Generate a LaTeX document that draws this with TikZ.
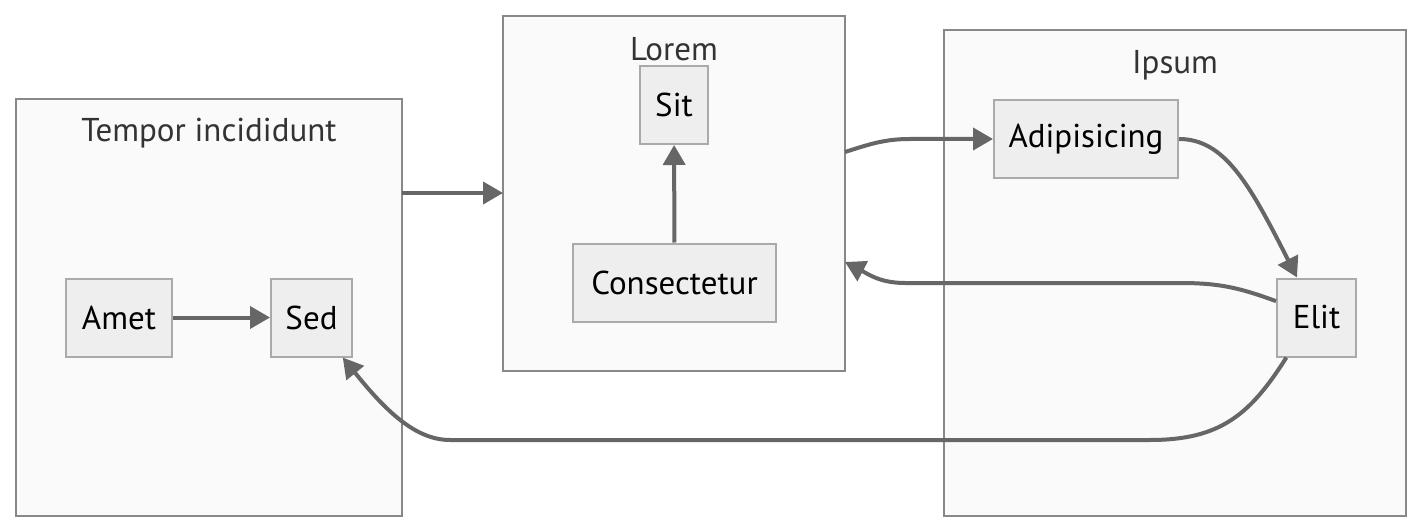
\documentclass[tikz,border=0pt]{standalone}
\usepackage{fontspec}
\setmainfont{PT Sans}
\usetikzlibrary{arrows.meta}

\definecolor{clusterfill}{HTML}{FAFAFA}
\definecolor{clusterline}{HTML}{888888}
\definecolor{boxfill}{HTML}{EEEEEE}
\definecolor{boxline}{HTML}{AAAAAA}
\definecolor{edgecol}{HTML}{666666}
\definecolor{titlecol}{HTML}{333333}

\tikzset{
    cluster/.style={draw=clusterline, fill=clusterfill, line width=2pt, inner sep=0pt},
    title/.style={text=titlecol, font=\fontsize{33}{38}\selectfont},
    box/.style={draw=boxline, fill=boxfill, line width=2pt, inner sep=0pt,
        minimum height=78pt, font=\fontsize{33}{38}\selectfont},
    edge/.style={draw=edgecol, line width=4pt, -{Triangle[length=20pt,width=22pt]}}
}

\begin{document}
\begin{tikzpicture}[x=1pt, y=-1pt]
        \useasboundingbox[fill=white] (0,0) rectangle (1422,532);

        % clusters
        \node[cluster, minimum width=386pt, minimum height=417pt] (tempor) at (209,307.5) {};
        \node[cluster, minimum width=342pt, minimum height=355pt] (lorem) at (674,193.5) {};
        \node[cluster, minimum width=462pt, minimum height=486pt] (ipsum) at (1175,273) {};

        \node[title] (tempor title) at (209,133) {Tempor incididunt};
        \node[title] (lorem title) at (674,49) {Lorem};
        \node[title] (ipsum title) at (1175,65) {Ipsum};

        % nodes
        \node[box, minimum width=106pt] (amet) at (119,317.5) {Amet};
        \node[box, minimum width=81pt] (sed) at (311.5,317.5) {Sed};
        \node[box, minimum width=68pt] (sit) at (674,105) {Sit};
        \node[box, minimum width=203pt] (cons) at (674.5,282.5) {Consectetur};
        \node[box, minimum width=184pt] (adip) at (1086,139) {Adipisicing};
        \node[box, minimum width=79pt] (elit) at (1316.5,317.5) {Elit};

        % cluster ends
        \coordinate (tempor out) at (402,193);
        \coordinate (lorem in) at (503,193);
        \coordinate (lorem out) at (845,152);
        \coordinate (lorem back) at (845,262);

        % edges
        \draw[edge] (amet) -- (sed);
        \draw[edge] (tempor out) -- (lorem in);
        \draw[edge] (cons) -- (sit);
        \draw[edge] (lorem out) .. controls (870,144) and (885,139) .. (910,139) -- (adip.west);
        \draw[edge] (adip.east) .. controls (1225,139) and (1250,185) .. (elit.116);
        \draw[edge] (elit.158) .. controls (1240,288) and (1220,283) .. (1180,283)
            -- (905,283) .. controls (880,283) and (868,274) .. (lorem back);
        \draw[edge] (elit.233) .. controls (1250,415) and (1220,440) .. (1150,440)
            -- (450,440) .. controls (415,440) and (385,410) .. (sed.308);
\end{tikzpicture}
\end{document}
